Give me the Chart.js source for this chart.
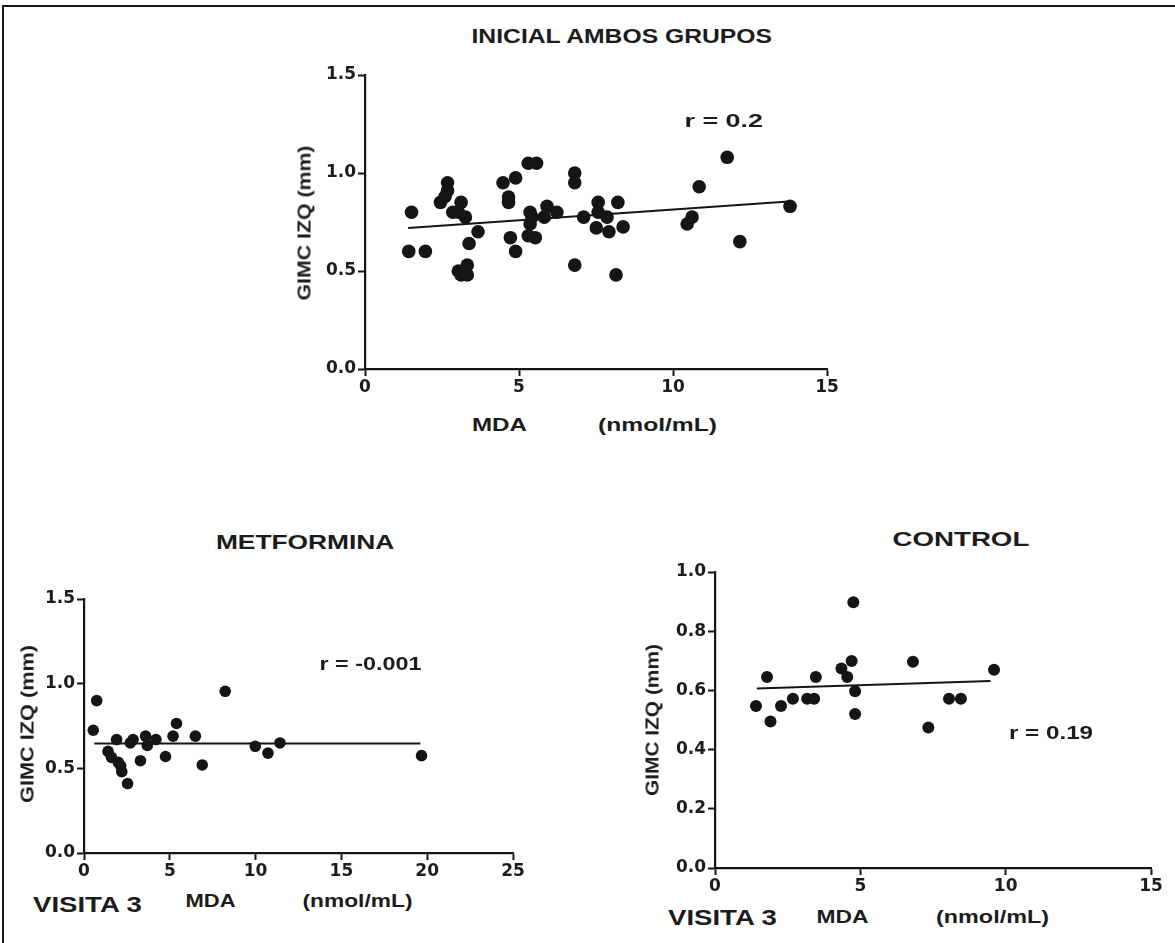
<!DOCTYPE html>
<html>
<head>
<meta charset="utf-8">
<script src="https://cdn.jsdelivr.net/npm/chart.js@4/dist/chart.umd.min.js"></script>
<style>
  html, body { margin: 0; padding: 0; background: #fff; }
  body { width: 1175px; height: 943px; position: relative; overflow: hidden; }
  canvas { position: absolute; }
  .frame { position: absolute; left: 2px; top: 5px; width: 1200px; height: 960px;
           border-top: 2px solid #1a1a1a; border-left: 2px solid #1a1a1a; }
  .lbl { position: absolute; white-space: nowrap; font-family: "Liberation Sans", Arial, sans-serif;
         font-weight: bold; color: #1c1c1c; line-height: 1; z-index: 5; }
</style>
</head>
<body>
<div class="frame"></div>
<canvas id="cTop" width="590" height="360" style="left:280px;top:55px"></canvas>
<canvas id="cMet" width="530" height="300" style="left:10px;top:580px"></canvas>
<canvas id="cCtl" width="535" height="340" style="left:640px;top:555px"></canvas>
<script>
// ---------- DATA ----------
// Top: INICIAL AMBOS GRUPOS
const topX = [1.51,1.42,1.96,2.45,2.68,2.68,2.60,2.85,3.12,3.03,3.26,3.38,3.67,3.03,3.12,3.32,3.32,4.48,4.89,4.66,4.66,4.72,4.89,5.30,5.57,5.36,5.36,5.30,5.53,5.42,5.82,5.91,6.23,6.81,6.81,6.81,7.10,7.57,7.57,7.51,7.86,7.92,8.21,8.38,8.15,10.46,10.62,10.85,11.76,12.17,13.80];
const topY = [0.80,0.60,0.60,0.85,0.95,0.91,0.88,0.80,0.85,0.80,0.775,0.64,0.70,0.50,0.48,0.53,0.48,0.95,0.975,0.877,0.85,0.67,0.60,1.05,1.05,0.80,0.74,0.68,0.67,0.775,0.775,0.83,0.80,1.00,0.95,0.53,0.775,0.85,0.80,0.72,0.775,0.70,0.85,0.725,0.48,0.74,0.775,0.93,1.08,0.65,0.83];
const topFitX = [1.4, 13.75];
const topFitY = [0.72, 0.855];
const topXTicks = [0, 5, 10, 15];
const topYTicks = [0.0, 0.5, 1.0, 1.5];

// Bottom left: METFORMINA
const metX = [0.54,0.74,1.40,1.60,1.90,2.00,2.20,2.54,2.14,2.70,2.86,3.29,3.59,3.69,4.19,4.75,5.19,5.39,6.49,6.89,8.23,9.98,10.72,11.42,19.67];
const metY = [0.725,0.90,0.60,0.565,0.67,0.535,0.48,0.41,0.515,0.65,0.67,0.545,0.69,0.635,0.67,0.57,0.69,0.765,0.69,0.52,0.955,0.63,0.59,0.65,0.575];
const metFitX = [0.6, 19.6];
const metFitY = [0.647, 0.647];
const metXTicks = [0, 5, 10, 15, 20, 25];
const metYTicks = [0.0, 0.5, 1.0, 1.5];

// Bottom right: CONTROL
const ctlX = [1.41,1.79,1.91,2.27,2.68,3.17,3.41,3.47,4.35,4.55,4.70,4.76,4.82,4.82,6.81,7.34,8.05,8.46,9.60];
const ctlY = [0.547,0.645,0.495,0.547,0.572,0.572,0.572,0.645,0.674,0.645,0.699,0.898,0.597,0.52,0.697,0.475,0.572,0.572,0.670];
const ctlFitX = [1.44, 9.48];
const ctlFitY = [0.606, 0.632];
const ctlXTicks = [0, 5, 10, 15];
const ctlYTicks = [0.0, 0.2, 0.4, 0.6, 0.8, 1.0];

// ---------- HELPERS ----------
const INK = '#151515';
const pts = (xs, ys) => xs.map((x, i) => ({ x, y: ys[i] }));

function makeChart(id, opt) {
  const tickFont = { family: '"DejaVu Sans", sans-serif', weight: 'bold', size: 17 };
  const axisCommon = (ticksArr, decimals) => ({
    type: 'linear',
    min: ticksArr[0], max: ticksArr[ticksArr.length - 1],
    afterBuildTicks: (s) => { s.ticks = ticksArr.map(v => ({ value: v })); },
    ticks: { color: '#1c1c1c', font: tickFont, autoSkip: false,
             callback: (v) => Number(v).toFixed(decimals) },
    grid: { display: true, drawOnChartArea: false, drawTicks: true, tickLength: 7,
            tickWidth: 2, tickColor: INK, color: INK },
    border: { display: true, color: INK, width: 2.2 }
  });
  const xAxis = axisCommon(opt.xTicks, 0);
  xAxis.ticks.padding = 1;
  xAxis.afterFit = (s) => { s.height = opt.xh; };
  const yAxis = axisCommon(opt.yTicks, 1);
  yAxis.ticks.padding = 2;
  yAxis.afterFit = (s) => { s.width = opt.yw; };

  return new Chart(document.getElementById(id), {
    type: 'scatter',
    data: {
      datasets: [
        { data: pts(opt.fx, opt.fy), type: 'line', showLine: true, borderColor: INK,
          borderWidth: 2, pointRadius: 0, fill: false, order: 2 },
        { data: pts(opt.x, opt.y), backgroundColor: INK, borderWidth: 0,
          pointRadius: opt.r, pointHoverRadius: opt.r, order: 1 }
      ]
    },
    options: {
      responsive: false, animation: false, devicePixelRatio: 1,
      layout: { padding: { top: opt.pt, right: opt.pr, left: 0, bottom: 0 } },
      plugins: { legend: { display: false }, tooltip: { enabled: false }, title: { display: false } },
      scales: { x: xAxis, y: yAxis }
    }
  });
}

// Top chart: plot area x 365..827, y 75..369
makeChart('cTop', { x: topX, y: topY, fx: topFitX, fy: topFitY, xTicks: topXTicks, yTicks: topYTicks,
  r: 6.8, yw: 85, xh: 46, pt: 20, pr: 43 });
// Metformina: plot area x 84..513, y 599..853
makeChart('cMet', { x: metX, y: metY, fx: metFitX, fy: metFitY, xTicks: metXTicks, yTicks: metYTicks,
  r: 5.8, yw: 74, xh: 27, pt: 19, pr: 27 });
// Control: plot area x 715..1151, y 572..868
makeChart('cCtl', { x: ctlX, y: ctlY, fx: ctlFitX, fy: ctlFitY, xTicks: ctlXTicks, yTicks: ctlYTicks,
  r: 6.0, yw: 75, xh: 27, pt: 17, pr: 24 });

// ---------- TEXT LABELS ----------
function label(text, cx, cy, size, width, rotate) {
  const el = document.createElement('div');
  el.className = 'lbl';
  el.textContent = text;
  el.style.fontSize = size + 'px';
  document.body.appendChild(el);
  const w = el.offsetWidth, h = el.offsetHeight;
  const k = width / w;
  el.style.left = (cx - w / 2) + 'px';
  el.style.top = (cy - h / 2) + 'px';
  el.style.transformOrigin = '50% 50%';
  el.style.transform = (rotate ? 'rotate(-90deg) ' : '') + 'scaleX(' + k.toFixed(3) + ')';
}
// top
label('INICIAL AMBOS GRUPOS', 622, 35, 21, 301);
label('r = 0.2', 723, 120, 19, 78);
label('GIMC IZQ (mm)', 304, 223, 18, 155, true);
label('MDA', 499, 425, 18, 55);
label('(nmol/mL)', 657, 425, 18, 119);
// metformina
label('METFORMINA', 305, 541, 21, 178);
label('r = -0.001', 370, 663, 19, 102);
label('GIMC IZQ (mm)', 27, 724, 18, 158, true);
label('VISITA 3', 87, 905, 22, 109);
label('MDA', 210, 901, 18, 50);
label('(nmol/mL)', 357, 901, 18, 110);
// control
label('CONTROL', 961, 538, 21, 137);
label('r = 0.19', 1051, 732, 19, 84);
label('GIMC IZQ (mm)', 652, 720, 18, 152, true);
label('VISITA 3', 722, 918, 22, 109);
label('MDA', 842, 917, 18, 52);
label('(nmol/mL)', 992, 917, 18, 113);
</script>
</body>
</html>
